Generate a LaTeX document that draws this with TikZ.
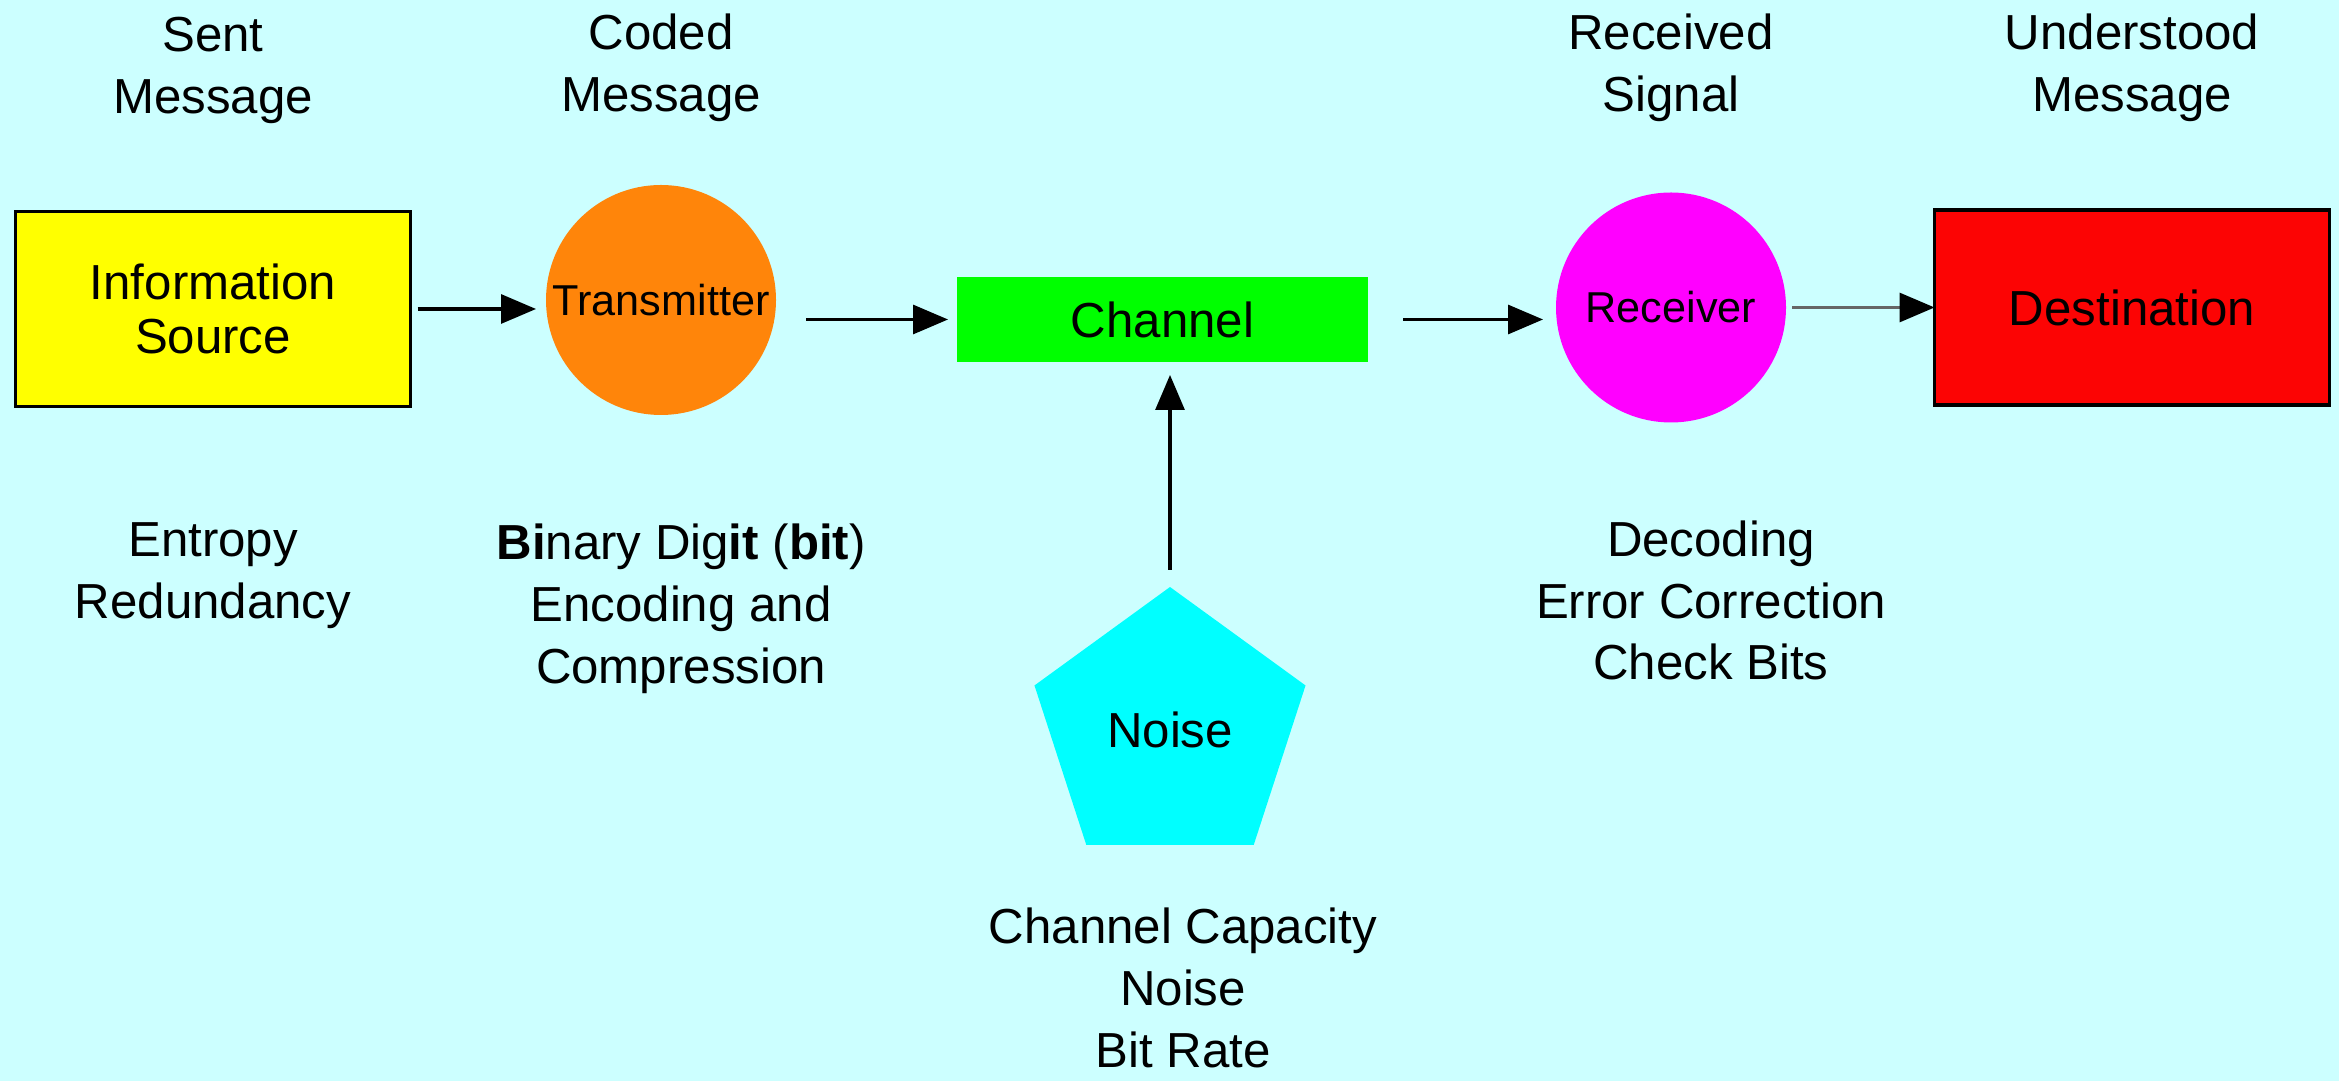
\documentclass[tikz,border=0pt]{standalone}
\usepackage{fontspec}
\setmainfont{Liberation Sans}
\usepackage{tikz}
\usetikzlibrary{positioning,arrows.meta,shapes.geometric}

\definecolor{bgcyan}{RGB}{204,255,255}
\definecolor{srcyellow}{RGB}{255,255,0}
\definecolor{txorange}{RGB}{255,133,10}
\definecolor{changreen}{RGB}{0,255,0}
\definecolor{rxmagenta}{RGB}{255,0,255}
\definecolor{dstred}{RGB}{252,4,4}
\definecolor{noisecyan}{RGB}{0,255,255}

\begin{document}
\begin{tikzpicture}[
    box/.style={outer sep=0pt, inner sep=0pt, align=center, font=\fontsize{14}{17.6}\selectfont},
    endbox/.style={box, draw=black, line width=1pt, minimum width=3.95cm, minimum height=1.95cm, font=\fontsize{14}{15.6}\selectfont},
    unit/.style={box, circle, minimum size=2.3cm, font=\fontsize{12.3}{15}\selectfont},
    chanbox/.style={box, fill=changreen, minimum width=4.11cm, minimum height=0.85cm},
    noisebox/.style={box, regular polygon, regular polygon sides=5, minimum size=2.85cm, fill=noisecyan},
    lbl/.style={box},
    >={Triangle[length=3.5mm, width=2.9mm]},
    flow/.style={->, line width=0.9pt},
    flowgray/.style={line width=0.9pt, draw=black!60, -{Triangle[length=3.5mm, width=2.9mm, color=black]}}
]
    \fill[bgcyan] (0,0) rectangle (23.39,-10.81);
    \useasboundingbox (0,0) rectangle (23.39,-10.81);

    \node[endbox, fill=srcyellow] (src) at (2.13,-3.09) {Information\\Source};
    \node[unit, fill=txorange, right=1.355cm of src, yshift=0.09cm] (tx) {Transmitter};
    \node[chanbox, right=1.81cm of tx, yshift=-0.195cm] (chan) {Channel};
    \node[unit, fill=rxmagenta, right=1.88cm of chan, yshift=0.12cm] (rx) {Receiver};
    \node[endbox, fill=dstred, right=1.485cm of rx] (dst) {Destination};
    \node[noisebox, below=2.25cm of chan, xshift=0.075cm] (noise) {Noise};

    \node[lbl, above=0.88cm of src] (sent) {Sent\\Message};
    \node[lbl, above=0.63cm of tx] (coded) {Coded\\Message};
    \node[lbl, above=0.705cm of rx] (recv) {Received\\Signal};
    \node[lbl, above=0.88cm of dst] (under) {Understood\\Message};

    \node[lbl, below=1.16cm of src] (entropy) {Entropy\\Redundancy};
    \node[lbl, below=1.09cm of tx, xshift=0.2cm] (bits) {\textbf{Bi}nary Dig\textbf{it} (\textbf{bit})\\Encoding and\\Compression};
    \node[lbl, below=0.98cm of rx, xshift=0.4cm] (decode) {Decoding\\Error Correction\\Check Bits};
    \node[lbl, below=0.63cm of noise, xshift=0.13cm] (capacity) {Channel Capacity\\Noise\\Bit Rate};

    \draw[flow, shorten <=0.07cm, shorten >=0.1cm] (src.east) -- (tx.west |- src.east);
    \draw[flow, shorten <=0.3cm, shorten >=0.09cm] (tx.east |- chan) -- (chan);
    \draw[flow, shorten <=0.35cm, shorten >=0.13cm] (chan) -- (rx.west |- chan);
    \draw[flowgray, shorten <=0.06cm] (rx.east |- dst) -- (dst);
    \draw[flow, shorten <=0.17cm, shorten >=0.13cm] (noise.north) -- (noise.north |- chan.south);
\end{tikzpicture}
\end{document}
